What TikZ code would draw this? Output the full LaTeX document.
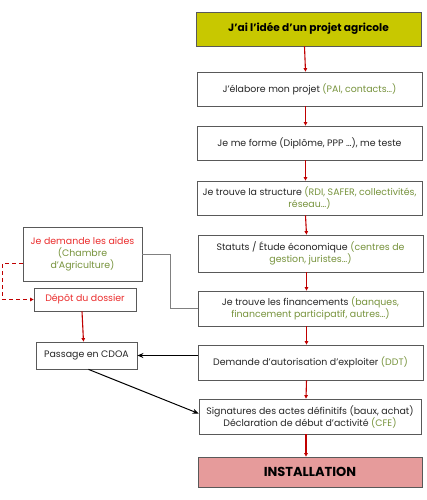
\documentclass[tikz,border=0pt]{standalone}
\usepackage{fontspec}
\setmainfont{Poppins}
\usepackage{tikz}
\usetikzlibrary{calc,arrows.meta}

\definecolor{boxline}{RGB}{89,89,89}
\definecolor{olivebox}{RGB}{200,200,0}
\definecolor{pinkbox}{RGB}{230,155,155}
\definecolor{greentxt}{RGB}{119,147,60}
\definecolor{redtxt}{RGB}{235,45,45}
\definecolor{redarrow}{RGB}{192,0,0}
\definecolor{darktxt}{RGB}{38,38,38}

\begin{document}
\begin{tikzpicture}[x=1pt, y=-1pt]
        % Page frame in pixels of the reference
        \useasboundingbox (0, 0) rectangle (427, 500);

        % Styles of the boxes and connectors
        \tikzset{
            stepbox/.style={draw=boxline, line width=0.8pt, fill=white, align=center,
                text=darktxt, inner sep=1pt, font=\fontsize{9.4}{12}\selectfont,
                minimum width=225pt, minimum height=34pt},
            sidebox/.style={stepbox, minimum width=101pt},
            redarr/.style={draw=redarrow, line width=1.1pt, -{Triangle[length=3.5pt, width=3.5pt]}},
            blackarr/.style={draw=black, line width=1pt, -{Stealth[length=6pt, width=5pt]}},
        }
        \newcommand{\gr}[1]{\textcolor{greentxt}{#1}}
        \newcommand{\rd}[1]{\textcolor{redtxt}{#1}}

        % Main column of steps
        \node[stepbox, fill=olivebox, font=\fontsize{10.6}{12}\selectfont\bfseries, text=black]
            (idea) at (308.5, 29) {J’ai l’idée d’un projet agricole};
        \node[stepbox] (elabore) at (309.5, 89) {J’élabore mon projet \gr{(PAI, contacts…)}};
        \node[stepbox] (forme) at (309.5, 143) {Je me forme (Diplôme, PPP …), me teste};
        \node[stepbox] (structure) at (309.5, 198)
            {Je trouve la structure \gr{(RDI, SAFER, collectivités,}\\ \gr{réseau…)}};
        \node[stepbox, minimum height=37pt] (statuts) at (310.5, 253.5)
            {Statuts / Étude économique \gr{(centres de}\\ \gr{gestion, juristes…)}};
        \node[stepbox, minimum height=35pt] (finance) at (310.5, 308.5)
            {Je trouve les financements \gr{(banques,}\\ \gr{financement participatif, autres…)}};
        \node[stepbox, minimum height=35pt] (ddt) at (310.5, 362.5)
            {Demande d’autorisation d’exploiter \gr{(DDT)}};
        \node[stepbox, minimum width=222pt, minimum height=35pt] (signatures) at (310, 416.5)
            {Signatures des actes définitifs (baux, achat)\\ Déclaration de début d’activité \gr{(CFE)}};
        \node[stepbox, fill=pinkbox, minimum width=224pt, minimum height=30pt,
            font=\fontsize{13}{15}\selectfont\bfseries, text=black]
            (install) at (310, 472) {INSTALLATION};

        % Side column
        \node[sidebox, minimum width=119pt, minimum height=54pt] (aides) at (82.5, 254)
            {\rd{Je demande les aides}\\ \gr{(Chambre}\\ \gr{d’Agriculture)}};
        \node[sidebox, minimum width=102pt, minimum height=23pt] (depot) at (85, 299.5)
            {\rd{Dépôt du dossier}};
        \node[sidebox, minimum height=27pt] (cdoa) at (86.5, 355.5) {Passage en CDOA};

        % Red arrows down the main column
        \foreach \a/\b in {idea/elabore, elabore/forme, forme/structure, structure/statuts,
                statuts/finance, finance/ddt, ddt/signatures, signatures/install} {
            \draw[redarr] ([xshift=-4pt]\a.south) -- ([xshift=-4pt]\b.north);
        }

        % Side connectors
        \draw[draw=gray, line width=0.8pt] (aides.east) -- ++(28, 0) |- (finance.west);
        \draw[redarr, dashed, dash pattern=on 4pt off 3pt, line width=1pt]
            ([yshift=-9pt]aides.west) -- ++(-20, 0) |- (depot.west);
        \draw[redarr] ([xshift=-3pt]depot.south) -- ([xshift=-3pt]cdoa.north);
        \draw[blackarr] (ddt.west |- cdoa.east) -- (cdoa.east);
        \draw[blackarr] ([xshift=2pt]cdoa.south) -- ([yshift=3pt]signatures.west);

\end{tikzpicture}
\end{document}
